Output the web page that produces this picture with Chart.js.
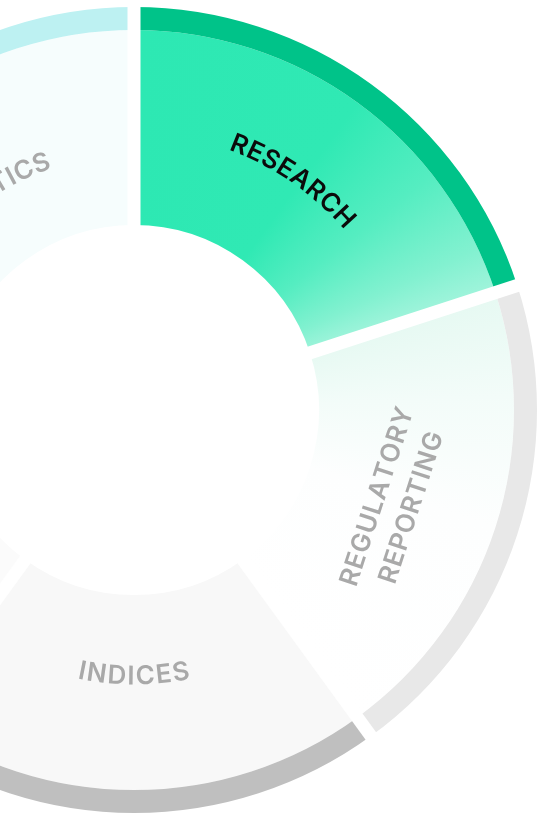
<!DOCTYPE html>
<html>
<head>
<meta charset="utf-8">
<title>Services wheel</title>
<script src="https://cdn.jsdelivr.net/npm/chart.js@4.4.1/dist/chart.umd.min.js"></script>
<style>
  html, body { margin: 0; padding: 0; background: #fff; overflow: hidden; }
  body { width: 539px; height: 813px; position: relative; }
  /* the wheel is bigger than the page, its left part is cut off */
  .wheel { position: absolute; left: -269px; top: 7px; width: 806px; height: 806px; }
</style>
</head>
<body>
<div class="wheel"><canvas id="wheel"></canvas></div>
<script>
// slice names, clockwise from 12 o'clock (4th one is off the page, name not visible)
const categories = ['RESEARCH', 'REGULATORY REPORTING', 'INDICES', '', 'ANALYTICS'];
const shareValues = [20, 20, 20, 20, 20];

const rimColors = ['#00c389', '#e8e8e8', '#bfbfbf', '#e2e2e2', '#bdf1f2'];
const fillColors = ['#2de8b3', '#eaf9f4', '#f8f8f8', '#fbfbfb', '#f6fdfd'];
const textColors = ['#0b0b0b', '#a9a9a9', '#a9a9a9', '#a9a9a9', '#a9a9a9'];

const total = shareValues.reduce((a, b) => a + b, 0);

// start / end of each slice as a fraction of the full turn
function sliceRange(i) {
    const start = shareValues.slice(0, i).reduce((a, b) => a + b, 0) / total;
    return [start, start + shareValues[i] / total];
}

function sliceFill(context) {
    const chart = context.chart;
    const i = context.dataIndex;
    const area = chart.chartArea;
    if (!area) return fillColors[i];

    const cx = (area.left + area.right) / 2;
    const cy = (area.top + area.bottom) / 2;
    const [f0, f1] = sliceRange(i);
    const span = f1 - f0;

    if (i === 0) {
        // green fades to pale towards the end of the slice
        const g = chart.ctx.createConicGradient(-Math.PI / 2, cx, cy);
        g.addColorStop(f0, '#2de8b3');
        g.addColorStop(f0 + span * 0.5, '#30e9b4');
        g.addColorStop(f0 + span * 0.72, '#55edc1');
        g.addColorStop(f0 + span * 0.9, '#82f1d0');
        g.addColorStop(f1, '#a2f4dc');
        return g;
    }
    if (i === 1) {
        // faint mint next to research, white further on
        const g = chart.ctx.createConicGradient(-Math.PI / 2, cx, cy);
        g.addColorStop(f0, '#e6f9f2');
        g.addColorStop(f0 + span * 0.22, '#f3fcf9');
        g.addColorStop(f0 + span * 0.5, '#fdfefe');
        g.addColorStop(f1, '#ffffff');
        return g;
    }
    return fillColors[i];
}

// white parallel gaps between the slices
const gapLines = {
    id: 'gapLines',
    afterDatasetsDraw(chart, args, opts) {
        const ctx = chart.ctx;
        const rim = chart.getDatasetMeta(0).data;
        ctx.save();
        ctx.strokeStyle = opts.color;
        ctx.lineWidth = opts.width;
        rim.forEach((arc) => {
            const r = arc.outerRadius + 4;
            ctx.beginPath();
            ctx.moveTo(arc.x, arc.y);
            ctx.lineTo(arc.x + r * Math.cos(arc.startAngle), arc.y + r * Math.sin(arc.startAngle));
            ctx.stroke();
        });
        ctx.restore();
    }
};

function textLength(ctx, chars, spacing) {
    const widths = chars.map(ch => ctx.measureText(ch).width);
    return [widths, widths.reduce((a, b) => a + b, 0) + spacing * (chars.length - 1)];
}

// text bent along a circle round the wheel centre
function drawArcText(ctx, text, cx, cy, r, mid, flip, spacing, capH) {
    const chars = [...text];
    const [widths, len] = textLength(ctx, chars, spacing);
    const dir = flip ? -1 : 1;
    let a = mid - dir * len / 2 / r;

    chars.forEach((ch, k) => {
        const half = widths[k] / 2 / r;
        a += dir * half;
        ctx.save();
        ctx.translate(cx + r * Math.cos(a), cy + r * Math.sin(a));
        ctx.rotate(flip ? a - Math.PI / 2 : a + Math.PI / 2);
        ctx.fillText(ch, 0, capH / 2);
        ctx.restore();
        a += dir * (half + spacing / r);
    });
}

// straight text, centred on a point, turned by rot
function drawLineText(ctx, text, x, y, rot, spacing, capH) {
    const chars = [...text];
    const [widths, len] = textLength(ctx, chars, spacing);
    ctx.save();
    ctx.translate(x, y);
    ctx.rotate(rot);
    let p = -len / 2;
    chars.forEach((ch, k) => {
        ctx.fillText(ch, p + widths[k] / 2, capH / 2);
        p += widths[k] + spacing;
    });
    ctx.restore();
}

// labels along the ring
const arcLabels = {
    id: 'arcLabels',
    afterDatasetsDraw(chart, args, opts) {
        const ctx = chart.ctx;
        const arcs = chart.getDatasetMeta(1).data;
        ctx.save();
        ctx.font = opts.font;
        ctx.textAlign = 'center';
        ctx.textBaseline = 'alphabetic';
        const capH = ctx.measureText('H').actualBoundingBoxAscent;

        arcs.forEach((arc, i) => {
            const label = chart.data.labels[i];
            if (!label) return;
            const centre = (arc.startAngle + arc.endAngle) / 2;
            const mid = centre + opts.shift[i] * Math.PI / 180;
            const fromTop = ((mid + Math.PI / 2) * 180 / Math.PI + 360) % 360;
            const flip = fromTop > 90 && fromTop < 270;
            const r = arc.innerRadius + (arc.outerRadius - arc.innerRadius) * opts.depth[i];
            const lines = label.split(' ');

            ctx.fillStyle = textColors[i];
            lines.forEach((line, k) => {
                const off = (k - (lines.length - 1) / 2) * opts.lineGap;
                const lr = flip ? r + off : r - off;
                if (opts.straight[i]) {
                    const rot = flip ? centre - Math.PI / 2 : centre + Math.PI / 2;
                    const x = arc.x + r * Math.cos(mid) + off * Math.cos(centre) * (flip ? 1 : -1);
                    const y = arc.y + r * Math.sin(mid) + off * Math.sin(centre) * (flip ? 1 : -1);
                    drawLineText(ctx, line, x, y, rot, opts.spacing, capH);
                } else {
                    drawArcText(ctx, line, arc.x, arc.y, lr, mid, flip, opts.spacing, capH);
                }
            });
        });
        ctx.restore();
    }
};

new Chart(document.getElementById('wheel'), {
    type: 'doughnut',
    data: {
        labels: categories,
        datasets: [
            {
                // thin outer rim
                data: shareValues,
                backgroundColor: rimColors,
                borderWidth: 0,
                weight: 23
            },
            {
                data: shareValues,
                backgroundColor: sliceFill,
                borderWidth: 0,
                weight: 195
            }
        ]
    },
    options: {
        responsive: true,
        maintainAspectRatio: false,
        animation: false,
        events: [],
        cutout: '45.9%',
        layout: { padding: 0 },
        plugins: {
            legend: { display: false },
            tooltip: { enabled: false },
            gapLines: { color: '#ffffff', width: 13 },
            arcLabels: {
                font: '600 26px Inter',
                spacing: 1,
                lineGap: 36,
                depth: [0.52, 0.46, 0.41, 0.41, 0.41],
                shift: [-1.3, 1.5, 0, 0, 0],
                straight: [false, true, false, false, false]
            }
        }
    },
    plugins: [gapLines, arcLabels]
});
</script>
</body>
</html>
